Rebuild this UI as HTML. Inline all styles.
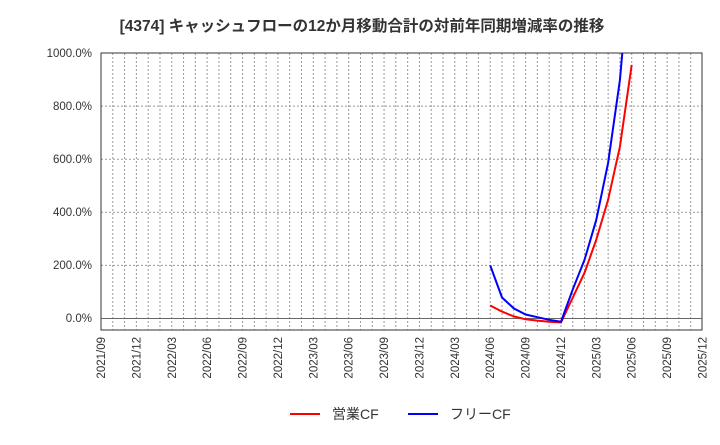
<!DOCTYPE html>
<html><head><meta charset="utf-8"><style>
body{margin:0;background:#fff;width:720px;height:440px;overflow:hidden;font-family:"Liberation Sans","Noto Sans CJK JP",sans-serif}
</style></head><body>
<svg width="720" height="440" xmlns="http://www.w3.org/2000/svg" font-family="Liberation Sans, Noto Sans CJK JP, sans-serif">
<text x="362" y="31" text-anchor="middle" font-size="15.5" font-weight="bold" fill="#333">[4374]  キャッシュフローの12か月移動合計の対前年同期増減率の推移</text>
<g id="grid" stroke="#999" stroke-width="1" stroke-dasharray="2,2"></g>
<rect x="101" y="53" width="601" height="277" fill="none" stroke="#333"/>
<line x1="101" x2="702" y1="318.5" y2="318.5" stroke="#666"/>
<g font-size="11.5" fill="#333" text-anchor="end">
<text x="92" y="57">1000.0%</text><text x="92" y="110">800.0%</text><text x="92" y="163">600.0%</text><text x="92" y="216">400.0%</text><text x="92" y="269">200.0%</text><text x="92" y="322">0.0%</text>
</g>
<g id="xl" font-size="11.5" fill="#333" text-anchor="end"></g>
<clipPath id="c"><rect x="101" y="53" width="601" height="277"/></clipPath>
<g clip-path="url(#c)" fill="none" stroke-width="2">
<polyline id="r" stroke="#f00"/>
<polyline id="b" stroke="#00f"/>
</g>
<line x1="290" x2="320" y1="414" y2="414" stroke="#f00" stroke-width="2"/>
<text x="332" y="419" font-size="14" fill="#333">営業CF</text>
<line x1="408" x2="438" y1="414" y2="414" stroke="#00f" stroke-width="2"/>
<text x="450" y="419" font-size="14" fill="#333">フリーCF</text>
</svg>
<script>
var s=11.794,g=document.getElementById('grid'),xl=document.getElementById('xl'),ns='http://www.w3.org/2000/svg';
for(var i=1;i<51;i++){var l=document.createElementNS(ns,'line');var x=101+i*s;l.setAttribute('x1',x);l.setAttribute('x2',x);l.setAttribute('y1',53);l.setAttribute('y2',330);g.appendChild(l);}
for(var v=200;v<1000;v+=200){var l=document.createElementNS(ns,'line');var y=318.5-v*0.2655;l.setAttribute('x1',101);l.setAttribute('x2',702);l.setAttribute('y1',y);l.setAttribute('y2',y);g.appendChild(l);}
for(var k=0;k<18;k++){var m=9+3*k,yr=2021+Math.floor((m-1)/12),mm=((m-1)%12)+1;var t=document.createElementNS(ns,'text');var x=101+k*3*s+4;t.setAttribute('transform','translate('+x+',337) rotate(-90)');t.textContent=yr+'/'+(mm<10?'0':'')+mm;xl.appendChild(t);}
function pts(st,a){return a.map(function(v,j){return (101+(st+j)*s).toFixed(1)+','+(318.5-v*0.2655).toFixed(1)}).join(' ')}
document.getElementById('r').setAttribute('points',pts(33,[49,26,8,-3,-8,-12,-15,79,173,297,447,647,955]));
document.getElementById('b').setAttribute('points',pts(33,[200,79,38,15,5,-5,-12,110,222,372,586,898,1400]));
</script>
</body></html>
